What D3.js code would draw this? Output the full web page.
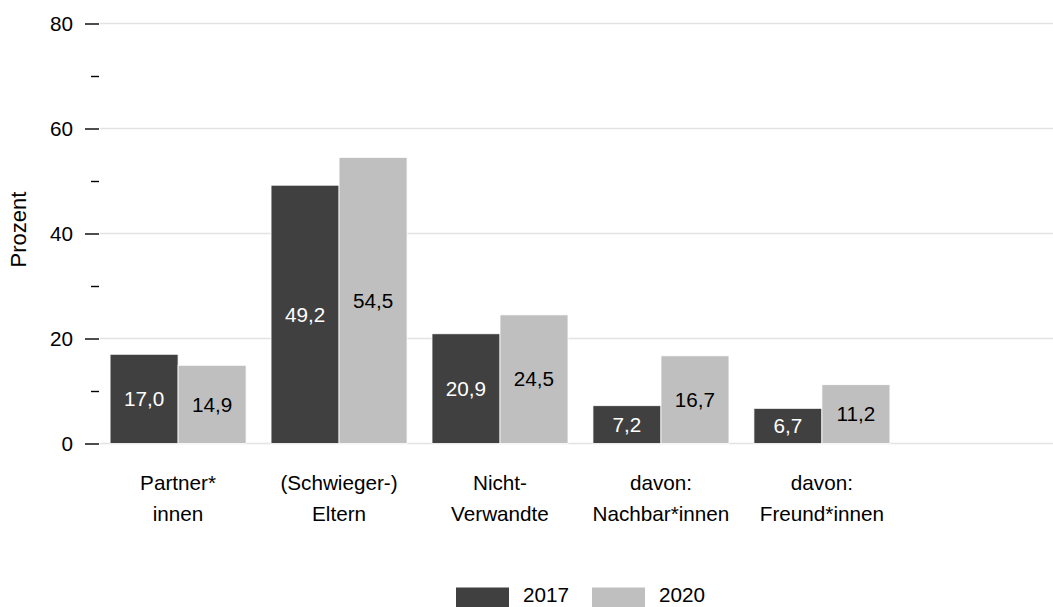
<!DOCTYPE html>
<html>
<head>
<meta charset="utf-8">
<script src="https://cdn.jsdelivr.net/npm/d3@7"></script>
<style>
  html, body { margin: 0; padding: 0; background: #fff; }
  svg { display: block; font-family: "Liberation Sans", Arial, sans-serif; }
</style>
</head>
<body>
<svg id="chart" width="1053" height="607"></svg>
<script>
const categories = [
  ["Partner*", "innen"],
  ["(Schwieger-)", "Eltern"],
  ["Nicht-", "Verwandte"],
  ["davon:", "Nachbar*innen"],
  ["davon:", "Freund*innen"]
];
const years = ["2017", "2020"];
const values2017 = [17.0, 49.2, 20.9, 7.2, 6.7];
const values2020 = [14.9, 54.5, 24.5, 16.7, 11.2];
const majorTicks = [0, 20, 40, 60, 80];
const minorTicks = [10, 30, 50, 70];
const yTitle = "Prozent";

const colors = { "2017": "#404040", "2020": "#bfbfbf" };
const labelColors = { "2017": "#ffffff", "2020": "#000000" };
const FS = 20.7;

const svg = d3.select("#chart");
const W = 1053, H = 607;

const y = d3.scaleLinear().domain([0, 80]).range([443.5, 23.5]);
const keys = categories.map((c, i) => i);
const x = d3.scaleBand().domain(keys).range([98, 902]).paddingInner(0.155).paddingOuter(0.075);
const xi = d3.scaleBand().domain(years).range([0, x.bandwidth()]).padding(0);

// gridlines
svg.append("g").selectAll("line").data(majorTicks).join("line")
  .attr("x1", 100).attr("x2", W)
  .attr("y1", d => y(d)).attr("y2", d => y(d))
  .attr("stroke", "#e3e3e3").attr("stroke-width", 1.3);

// y axis major
const yAxis = d3.axisLeft(y).tickValues(majorTicks).tickSize(14).tickPadding(12).tickFormat(d3.format("d"));
const ga = svg.append("g").attr("transform", "translate(99,0)").call(yAxis);
ga.select(".domain").remove();
ga.selectAll(".tick line").attr("stroke", "#000").attr("stroke-width", 1.4);
ga.selectAll(".tick text").attr("font-size", FS).attr("fill", "#000").attr("font-family", "Liberation Sans, Arial, sans-serif");

// minor ticks
const yMinor = d3.axisLeft(y).tickValues(minorTicks).tickSize(8).tickFormat("");
const gm = svg.append("g").attr("transform", "translate(99,0)").call(yMinor);
gm.select(".domain").remove();
gm.selectAll(".tick line").attr("stroke", "#000").attr("stroke-width", 1.4);

// y title
svg.append("text")
  .attr("transform", `translate(26,${(y(0) + y(80)) / 2 - 4}) rotate(-90)`)
  .attr("text-anchor", "middle")
  .attr("font-size", 22).attr("fill", "#000")
  .text(yTitle);

// bars
const data = [];
keys.forEach(i => {
  data.push({ i, year: "2017", v: values2017[i] });
  data.push({ i, year: "2020", v: values2020[i] });
});

const bars = svg.append("g");
bars.selectAll("rect").data(data).join("rect")
  .attr("x", d => x(d.i) + xi(d.year))
  .attr("width", xi.bandwidth())
  .attr("y", d => y(d.v))
  .attr("height", d => y(0) - y(d.v))
  .attr("fill", d => colors[d.year])
  .attr("stroke", "#ffffff").attr("stroke-width", 0.8);

bars.selectAll("text").data(data).join("text")
  .attr("x", d => x(d.i) + xi(d.year) + xi.bandwidth() / 2)
  .attr("y", d => (y(d.v) + y(0)) / 2)
  .attr("dy", "0.35em")
  .attr("text-anchor", "middle")
  .attr("font-size", FS)
  .attr("fill", d => labelColors[d.year])
  .text(d => d3.format(".1f")(d.v).replace(".", ","));

// x labels
const xl = svg.append("g");
keys.forEach(i => {
  const t = xl.append("text")
    .attr("x", x(i) + x.bandwidth() / 2)
    .attr("y", 490)
    .attr("text-anchor", "middle")
    .attr("font-size", FS).attr("fill", "#000");
  categories[i].forEach((line, j) => {
    t.append("tspan").attr("x", x(i) + x.bandwidth() / 2).attr("dy", j === 0 ? 0 : 31).text(line);
  });
});

// legend
const legend = svg.append("g");
const legX = [456, 592];
years.forEach((yr, k) => {
  legend.append("rect").attr("x", legX[k]).attr("y", 587.5).attr("width", 53).attr("height", 25)
    .attr("fill", colors[yr]);
  legend.append("text").attr("x", legX[k] + 67).attr("y", 602).attr("font-size", FS).attr("fill", "#000").text(yr);
});
</script>
</body>
</html>
